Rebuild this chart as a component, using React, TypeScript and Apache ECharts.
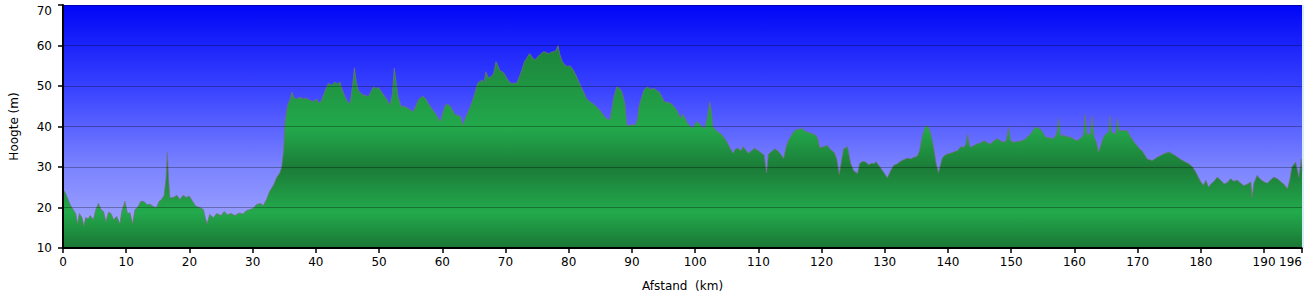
import React, { useEffect, useRef } from "react";
import * as echarts from "echarts";

// Elevation profile: [distance km, elevation m]
const elevationProfile: [number, number][] = [
  [0, 24.5], [0.4, 23.5], [0.8, 22], [1.2, 20.5], [1.6, 19.5], [2.0, 18.5], [2.3, 16], [2.6, 18.5],
  [3.0, 17.5], [3.3, 15.5], [3.6, 17.5], [4.0, 17.2], [4.3, 18], [4.8, 17], [5.2, 19.5], [5.6, 21],
  [6.0, 19.5], [6.4, 19], [6.8, 16.5], [7.2, 18.8], [7.6, 18.5], [8.0, 17], [8.5, 17.8], [9.0, 16],
  [9.3, 19], [9.8, 21.5], [10.2, 18.5], [10.6, 18.7], [11.0, 16], [11.4, 19.5], [11.8, 20], [12.3, 21.5],
  [12.8, 21.5], [13.3, 20.7], [13.8, 20.8], [14.3, 20.2], [14.8, 20], [15.2, 21.5], [15.6, 22], [16.0, 23],
  [16.3, 27], [16.5, 33.5], [16.7, 27], [16.9, 22.4], [17.5, 22.5], [18.0, 23], [18.5, 22], [19.0, 23],
  [19.5, 22.5], [20.0, 22.8], [20.5, 21.5], [21.0, 20.3], [21.6, 20], [22.2, 19.5], [22.5, 17.5], [22.8, 16],
  [23.2, 18.3], [23.8, 17.5], [24.3, 18.5], [25.0, 18], [25.5, 19], [26.0, 18.2], [26.6, 18.5], [27.2, 18],
  [27.8, 18.6], [28.5, 18.4], [29.0, 19.2], [29.6, 19.5], [30.1, 19.8], [30.6, 20.7], [31.2, 21], [31.7, 20.5],
  [32.2, 22], [32.7, 24], [33.3, 25.5], [33.8, 27.4], [34.3, 28.5], [34.6, 30], [34.9, 34], [35.1, 40.6],
  [35.4, 44], [35.6, 45.5], [36.0, 47], [36.2, 48.5], [36.6, 47], [37.0, 46.8], [37.5, 47.2], [38.0, 46.8],
  [38.5, 47], [39.1, 46.4], [39.6, 46.2], [40.1, 46.8], [40.5, 45.8], [40.9, 46.5], [41.5, 49], [42.0, 50.7],
  [42.5, 50.2], [43.0, 51], [43.4, 50.5], [43.8, 51], [44.2, 49], [44.6, 47.4], [45.0, 46.2], [45.4, 45.7],
  [45.8, 50], [46.1, 54.5], [46.4, 51], [46.7, 49], [47.1, 48.2], [47.5, 47.8], [48.0, 47.6], [48.3, 47.4],
  [48.7, 48.5], [49.1, 49.8], [49.5, 49.4], [49.9, 49.6], [50.4, 48.5], [50.9, 47.4], [51.3, 46.5], [51.7, 45.3],
  [52.1, 48], [52.4, 54.4], [52.7, 51], [53.0, 47.4], [53.5, 44.9], [54.0, 45], [54.6, 44.5], [55.0, 44],
  [55.4, 43.7], [55.8, 45], [56.2, 46.5], [56.6, 47.2], [57.0, 47.4], [57.4, 46.8], [57.8, 45.7], [58.3, 44.5],
  [58.9, 43.3], [59.3, 42.2], [59.7, 41.2], [60.1, 43.5], [60.5, 45.3], [60.9, 45.5], [61.3, 44.9], [61.7, 43.8],
  [62.1, 42.8], [62.5, 42.8], [62.9, 42.4], [63.2, 40.4], [63.6, 41.8], [64.0, 43.3], [64.4, 44.8], [64.8, 46.5],
  [65.2, 48.5], [65.6, 50.7], [66.0, 51.2], [66.3, 51.5], [66.6, 50.8], [66.9, 53.5], [67.3, 52], [67.7, 52.3],
  [68.1, 53], [68.5, 56], [68.8, 55], [69.1, 53.8], [69.5, 53.5], [69.8, 53.1], [70.2, 52], [70.6, 51],
  [71.0, 50.6], [71.4, 50.7], [71.8, 50.8], [72.2, 52.3], [72.6, 54], [73.0, 56], [73.4, 57], [73.8, 58],
  [74.2, 57.2], [74.6, 56.4], [75.0, 57], [75.4, 57.7], [75.8, 58.2], [76.1, 58.5], [76.5, 58.2], [76.9, 58],
  [77.3, 58.4], [77.7, 58.5], [78.0, 58.8], [78.3, 60], [78.6, 57.8], [79.0, 56], [79.4, 55.2], [79.8, 54.8],
  [80.2, 55], [80.7, 54], [81.2, 52.5], [81.7, 50.7], [82.2, 49], [82.8, 47], [83.3, 46.2], [83.8, 45.7],
  [84.3, 45], [84.9, 44.1], [85.4, 43], [85.9, 42], [86.5, 41.6], [86.8, 44], [87.1, 47], [87.6, 49.8],
  [88.0, 49.5], [88.4, 48.6], [88.9, 45.7], [89.2, 40.4], [89.6, 40.2], [90.0, 40.5], [90.6, 40.4], [90.9, 42],
  [91.1, 44.9], [91.5, 47], [91.9, 49], [92.4, 49.8], [92.9, 49.2], [93.5, 49.4], [94.0, 48.8], [94.3, 48.6],
  [94.7, 47.5], [95.1, 46.1], [95.6, 46], [96.2, 45.7], [96.6, 45], [96.9, 44.5], [97.3, 43.5], [97.7, 42],
  [98.0, 43], [98.3, 42.4], [98.8, 40.8], [99.2, 40.2], [99.6, 39.5], [100.2, 41.2], [100.6, 40.8], [100.9, 40.4],
  [101.2, 39.8], [101.5, 39.5], [101.9, 42], [102.3, 46.1], [102.6, 43.5], [102.8, 40], [103.2, 39.2], [103.6, 38.7],
  [104.2, 38], [104.7, 37], [105.1, 36], [105.4, 35], [106.0, 33.4], [106.4, 34.5], [106.8, 34.6], [107.2, 34],
  [107.6, 35], [108.0, 34.2], [108.4, 33.4], [108.9, 34], [109.4, 34.6], [110.0, 34], [110.5, 33.4], [110.9, 33],
  [111.3, 28.5], [111.6, 33.2], [112.1, 33.8], [112.6, 34.5], [113.2, 33.8], [113.6, 33], [114.0, 32.1], [114.4, 35],
  [114.8, 36.7], [115.3, 38], [115.8, 39.1], [116.3, 39.3], [116.9, 39.5], [117.4, 38.9], [117.9, 38.5], [118.5, 38.3],
  [119.1, 37.8], [119.4, 37], [119.7, 34.8], [120.3, 35], [120.9, 35.3], [121.5, 34.2], [122.0, 33.6], [122.4, 32],
  [122.8, 28.2], [123.2, 32], [123.5, 34.5], [124.1, 35], [124.6, 30.9], [125.1, 29], [125.7, 28.4], [126.0, 30.8],
  [126.5, 31.4], [127.0, 31.2], [127.5, 30.5], [127.8, 30.9], [128.3, 30.8], [128.6, 31.3], [129.0, 30.5], [129.4, 29.6],
  [129.9, 28.5], [130.4, 27.3], [130.9, 29], [131.4, 30.4], [132.0, 30.8], [132.5, 31.4], [133.0, 31.8], [133.6, 32.2],
  [134.1, 32], [134.6, 32.4], [135.1, 32.6], [135.5, 34], [135.9, 37.4], [136.3, 39.5], [136.6, 40.3], [137.0, 39.5],
  [137.4, 37.5], [137.8, 34.1], [138.1, 31], [138.5, 28.6], [138.8, 30.5], [139.1, 32.2], [139.6, 33], [140.1, 33.3],
  [140.6, 33.5], [141.0, 33.8], [141.5, 34], [142.0, 35], [142.5, 34.9], [142.8, 35.5], [143.1, 38.2], [143.4, 35.2],
  [143.6, 34.9], [144.1, 35.3], [144.6, 35.7], [145.2, 36], [145.7, 36.5], [146.2, 36], [146.7, 35.7], [147.2, 36.4],
  [147.8, 37], [148.3, 36.5], [148.8, 36.1], [149.2, 36.5], [149.6, 39.8], [149.9, 36.5], [150.4, 36.1], [151.0, 36.3],
  [151.7, 36.5], [152.3, 37], [152.8, 37.8], [153.1, 38.2], [153.5, 39.2], [153.8, 39.8], [154.2, 39.6], [154.6, 39.4],
  [155.0, 38.5], [155.4, 37.4], [156.0, 37.2], [156.7, 37], [157.2, 38.2], [157.5, 42], [157.8, 37.8], [158.3, 37.8],
  [158.8, 37.5], [159.3, 37.4], [159.8, 37], [160.4, 36.5], [160.9, 37], [161.4, 37.8], [161.7, 43], [162.0, 38],
  [162.5, 38.2], [162.8, 42.5], [163.1, 37.5], [163.5, 36], [163.8, 33.7], [164.2, 35.5], [164.6, 37.4], [165.0, 38.2],
  [165.4, 38.6], [165.6, 42.7], [165.9, 38.5], [166.5, 38.2], [166.8, 42], [167.1, 38.8], [167.5, 39], [168.0, 39],
  [168.3, 39], [168.7, 38], [169.1, 37], [169.5, 36], [169.9, 35.3], [170.3, 34.5], [170.7, 34], [171.1, 33],
  [171.5, 32], [171.9, 31.8], [172.3, 31.6], [172.7, 32], [173.1, 32.4], [173.6, 32.8], [174.2, 33.3], [174.6, 33.5],
  [175.0, 33.7], [175.5, 33.2], [176.0, 32.8], [176.5, 32.2], [177.1, 31.6], [177.6, 31.2], [178.1, 30.8], [178.7, 30],
  [179.2, 28.7], [179.6, 27.5], [180.0, 26.3], [180.4, 25.5], [180.8, 26.7], [181.2, 25], [181.6, 25.8], [182.1, 26.5],
  [182.6, 27.5], [183.1, 26.8], [183.7, 25.8], [184.2, 26.2], [184.7, 27.1], [185.2, 26.5], [185.8, 26.7], [186.3, 26],
  [186.8, 25.4], [187.4, 25.8], [187.9, 26.3], [188.1, 22.5], [188.4, 26], [188.9, 27.9], [189.4, 27], [190.0, 26.3],
  [190.5, 26], [191.0, 26.7], [191.5, 27.5], [192.1, 27.1], [192.6, 26.4], [193.1, 25.8], [193.7, 24.6], [194.1, 27],
  [194.4, 30], [195.0, 31.2], [195.3, 29], [195.5, 27.5], [195.9, 32], [196.0, 29],
];

const xMin = 0;
const xMax = 196;
const xInterval = 10;
const yMin = 10;
const yMax = 70;
const yInterval = 10;
const xAxisName = "Afstand  (km)";
const yAxisName = "Hoogte (m)";

const W = 1309;
const H = 301;
const GRID = { left: 61, right: 7, top: 5, bottom: 53 };

export default function App() {
  const ref = useRef<HTMLDivElement>(null);

  useEffect(() => {
    if (!ref.current) return;
    const chart = echarts.init(ref.current, undefined, { renderer: "svg" });
    const top = GRID.top;
    const bottom = H - GRID.bottom;
    const span = bottom - top;
    const off = (y: number) => Math.min(1, Math.max(0, (y - top) / span));

    const greenFill = new echarts.graphic.LinearGradient(
      0,
      top,
      0,
      bottom,
      [
        { offset: 0, color: "#1a7836" },
        { offset: off(60), color: "#1d8a3d" },
        { offset: off(128), color: "#23a94c" },
        { offset: off(168), color: "#1b7c38" },
        { offset: off(212), color: "#23aa4c" },
        { offset: 1, color: "#1a7634" },
      ],
      true
    );

    const skyFill = new echarts.graphic.LinearGradient(0, 0, 0, 1, [
      { offset: 0, color: "#0006f6" },
      { offset: 0.35, color: "#3a44ff" },
      { offset: 0.67, color: "#7c84ff" },
      { offset: 1, color: "#a9aeff" },
    ]);

    chart.setOption({
      animation: false,
      textStyle: { fontFamily: "DejaVu Sans" },
      grid: {
        ...GRID,
        show: true,
        backgroundColor: skyFill,
        borderWidth: 0,
      },
      xAxis: {
        type: "value",
        min: xMin,
        max: xMax,
        interval: xInterval,
        z: 10,
        name: xAxisName,
        nameLocation: "middle",
        nameGap: 32,
        nameTextStyle: { fontSize: 12, color: "#000", fontFamily: "DejaVu Sans" },
        axisLine: { show: true, lineStyle: { color: "#000", width: 2 } },
        axisTick: { show: true, length: 5, lineStyle: { color: "#000", width: 1.5 } },
        axisLabel: {
          fontSize: 12,
          color: "#000",
          margin: 8,
          alignMaxLabel: "right",
          fontFamily: "DejaVu Sans",
        },
        splitLine: { show: false },
      },
      yAxis: {
        type: "value",
        min: yMin,
        max: yMax,
        interval: yInterval,
        z: 10,
        name: yAxisName,
        nameLocation: "middle",
        nameRotate: 90,
        nameGap: 43,
        nameTextStyle: { fontSize: 12, color: "#000", fontFamily: "DejaVu Sans" },
        axisLine: { show: true, lineStyle: { color: "#000", width: 2 } },
        axisTick: { show: true, length: 5, lineStyle: { color: "#000", width: 1.5 } },
        axisLabel: {
          fontSize: 12,
          color: "#000",
          margin: 11,
          verticalAlignMaxLabel: "top",
          fontFamily: "DejaVu Sans",
        },
        splitLine: { show: true, lineStyle: { color: "rgba(0,0,0,0.3)", width: 1 } },
      },
      graphic: [
        {
          type: "line",
          silent: true,
          z: 20,
          shape: { x1: W - GRID.right + 1, y1: top, x2: W - GRID.right + 1, y2: bottom },
          style: { stroke: "#a8dbe8", lineWidth: 1 },
        },
      ],
      series: [
        {
          type: "line",
          data: elevationProfile,
          showSymbol: false,
          symbol: "none",
          z: 2,
          lineStyle: { color: "rgba(115,115,115,0.75)", width: 1 },
          areaStyle: { color: greenFill, opacity: 1, origin: "start" },
        },
      ],
    });
    return () => chart.dispose();
  }, []);

  return (
    <div
      ref={ref}
      style={{ position: "absolute", left: 0, top: 0, width: W, height: H, background: "#fff" }}
    />
  );
}
